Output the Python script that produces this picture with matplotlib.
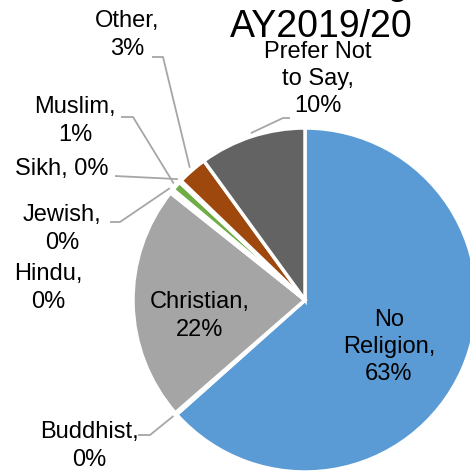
import numpy as np
import matplotlib
matplotlib.use("Agg")
import matplotlib.pyplot as plt

plt.rcParams["font.family"] = ["Liberation Sans", "DejaVu Sans"]

# Religion of students, share in percent (clockwise from 12 o'clock)
religions = ["No\nReligion", "Buddhist", "Christian", "Hindu", "Jewish",
             "Muslim", "Sikh", "Other", "Prefer Not\nto Say"]
shares = [63.4, 0.2, 22.1, 0.2, 0.2, 0.9, 0.2, 2.8, 10.0]
colors = ["#5B9BD5", "#ED7D31", "#A5A5A5", "#FFC000", "#4472C4",
          "#70AD47", "#255E91", "#9E480E", "#636363"]

W, H = 470, 472
CX, CY, R = 305, 300, 172  # pixel coords, y from top

# label centre and leader bend (None = no leader), pixel coords from top
label_pos = {
    "No\nReligion": ((389, 347), None),
    "Buddhist": ((89, 446), [(138, 435), (150, 435)]),
    "Christian": ((200, 316), None),
    "Hindu": ((48, 288), None),
    "Jewish": ((62, 229), [(110, 222), (120, 222)]),
    "Muslim": ((75, 121), [(121, 117), (133, 117)]),
    "Sikh": ((62, 169), [(115, 176)]),
    "Other": ((127, 35), [(152, 57), (163, 57)]),
    "Prefer Not\nto Say": ((318, 79), [(290, 118), (283, 118)]),
}


def flip(y):
    return H - y


fig = plt.figure(figsize=(W / 100, H / 100), dpi=100)
ax = fig.add_axes([0, 0, 1, 1])

wedges, _ = ax.pie(shares, colors=colors, startangle=90, counterclock=False,
                   center=(CX, flip(CY)), radius=R,
                   wedgeprops=dict(edgecolor="white", linewidth=2.5))
ax.set_xlim(0, W)
ax.set_ylim(0, H)
ax.set_aspect("equal")
ax.axis("off")

for name, share, w in zip(religions, shares, wedges):
    sep = ", " if name == "Sikh" else ",\n"
    text = f"{name}{sep}{share:.0f}%"
    (tx, ty), bends = label_pos[name]
    ax.text(tx, flip(ty), text, ha="center", va="center", fontsize=17,
            linespacing=1.32, color="black")
    if bends:
        mid = np.deg2rad((w.theta1 + w.theta2) / 2)
        tip = (CX + 1.02 * R * np.cos(mid), flip(CY) + 1.02 * R * np.sin(mid))
        xs = [b[0] for b in bends] + [tip[0]]
        ys = [flip(b[1]) for b in bends] + [tip[1]]
        ax.plot(xs, ys, color="#A6A6A6", lw=1.3, solid_capstyle="butt")

ax.text(321, flip(45), "Student Religion\nAY2019/20", ha="center",
        va="bottom", fontsize=27, linespacing=1.25)

fig.savefig("out.png", dpi=100)
